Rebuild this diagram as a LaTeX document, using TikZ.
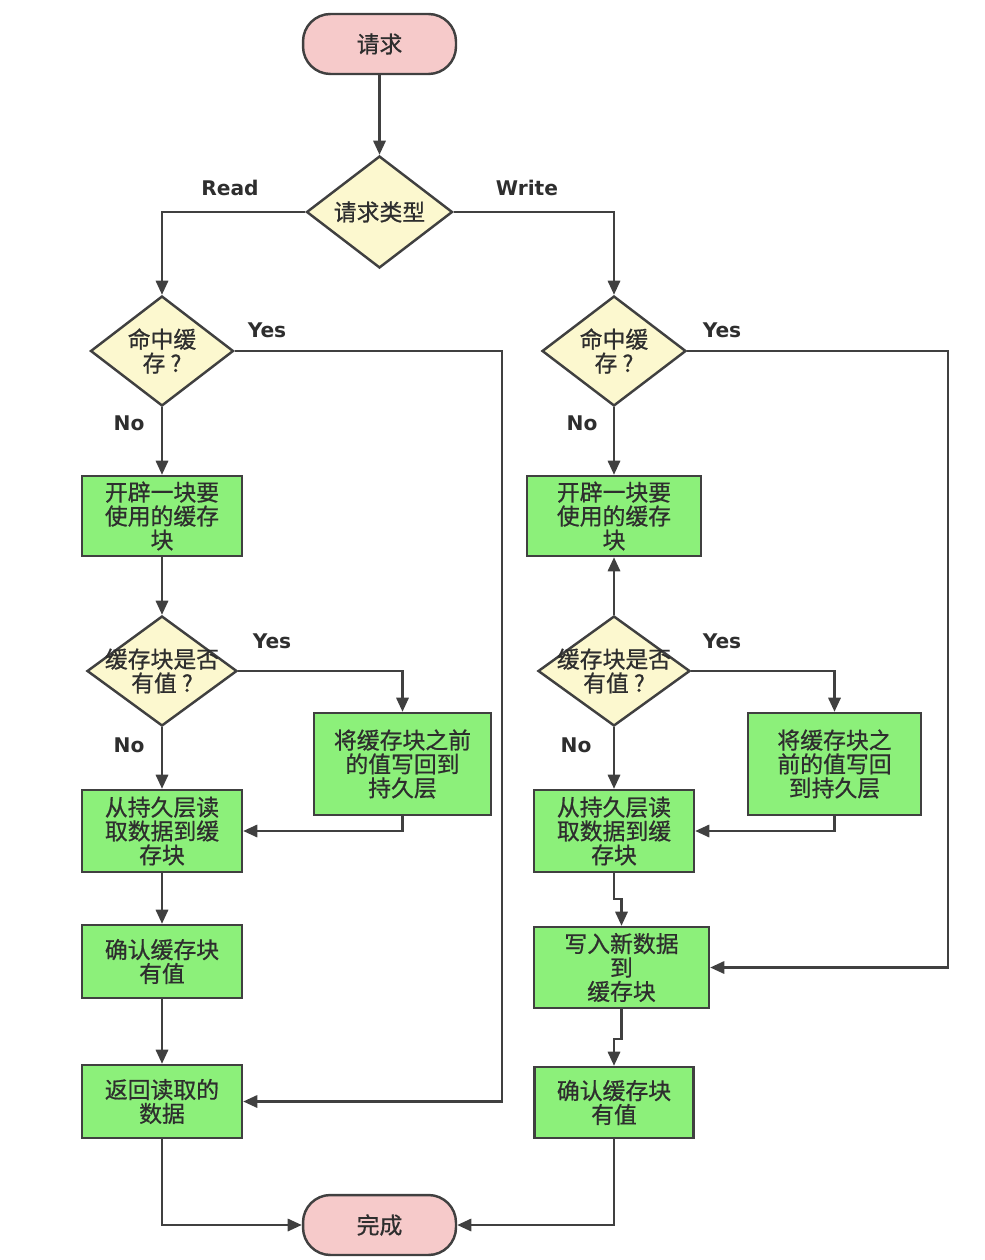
\documentclass[tikz,border=0pt]{standalone}
\usepackage{fontspec}
\newfontfamily\cjk[FakeBold=0.7]{Noto Sans CJK SC}
\newfontfamily\lab{DejaVu Sans}
\usetikzlibrary{shapes.geometric,arrows.meta}
\definecolor{ln}{HTML}{404040}
\definecolor{txt}{HTML}{2E2E2E}
\definecolor{pinkf}{HTML}{F6CACA}
\definecolor{yelf}{HTML}{FCF8CF}
\definecolor{grnf}{HTML}{8CF07A}
\tikzset{
  base/.style={draw=ln, line width=1.4pt, text=txt, font=\cjk\fontsize{13}{13.6}\selectfont, align=center, inner sep=0pt},
  term/.style={base, fill=pinkf, rounded corners=0.55cm, minimum width=3.06cm, minimum height=1.2cm},
  proc/.style={base, fill=grnf},
  diam/.style={base, diamond, fill=yelf},
  dtext/.style={text=txt, font=\cjk\fontsize{13}{13.6}\selectfont, align=center, inner sep=0pt},
  arr/.style={draw=ln, line width=1.3pt, -{Triangle[length=8pt,width=7pt]}},
  yn/.style={text=txt, font=\lab\bfseries\fontsize{11.5}{12}\selectfont, inner sep=0pt}
}
\begin{document}
\begin{tikzpicture}[x=0.02cm,y=-0.02cm]
\useasboundingbox (0,0) rectangle (984,1260);
% terminals
\node[term] (start) at (379.5,44) {请求};
\node[term] (fin) at (379.5,1225) {完成};
% decision: type
\node[diam, minimum width=2.92cm, minimum height=2.24cm, label={[dtext]center:请求类型}] (type) at (379.5,212) {};
% left column
\node[diam, minimum width=2.86cm, minimum height=2.2cm, label={[dtext]center:{命中缓\\存 ?}}] (hitL) at (162,351) {};
\node[proc, minimum width=3.2cm, minimum height=1.6cm] (openL) at (162,516) {开辟一块要\\使用的缓存\\块};
\node[diam, minimum width=3.0cm, minimum height=2.2cm, label={[dtext]center:{缓存块是否\\有值 ?}}] (cacheL) at (162,671) {};
\node[proc, minimum width=3.54cm, minimum height=2.04cm] (wbL) at (402.5,764) {将缓存块之前\\的值写回到\\持久层};
\node[proc, minimum width=3.2cm, minimum height=1.64cm] (readL) at (162,831) {从持久层读\\取数据到缓\\存块};
\node[proc, minimum width=3.2cm, minimum height=1.46cm] (confL) at (162,961.5) {确认缓存块\\有值};
\node[proc, minimum width=3.2cm, minimum height=1.46cm] (retL) at (162,1101.5) {返回读取的\\数据};
% right column
\node[diam, minimum width=2.88cm, minimum height=2.2cm, label={[dtext]center:{命中缓\\存 ?}}] (hitR) at (614,351) {};
\node[proc, minimum width=3.48cm, minimum height=1.6cm] (openR) at (614,516) {开辟一块要\\使用的缓存\\块};
\node[diam, minimum width=3.04cm, minimum height=2.2cm, label={[dtext]center:{缓存块是否\\有值 ?}}] (cacheR) at (614,671) {};
\node[proc, minimum width=3.46cm, minimum height=2.04cm] (wbR) at (834.5,764) {将缓存块之\\前的值写回\\到持久层};
\node[proc, minimum width=3.2cm, minimum height=1.64cm] (readR) at (614,831) {从持久层读\\取数据到缓\\存块};
\node[proc, minimum width=3.5cm, minimum height=1.62cm] (writeR) at (621.5,967.5) {写入新数据\\到\\缓存块};
\node[proc, minimum width=3.18cm, minimum height=1.42cm] (confR) at (614,1102.5) {确认缓存块\\有值};
% helper coordinates
\coordinate (xL) at (502,700);
\coordinate (xR) at (948,700);
% connectors
\draw[arr] (start) -- (type);
\draw[arr] (type.west) -| (hitL.north);
\draw[arr] (type.east) -| (hitR.north);
\draw[arr] (hitL.east) -| (xL) |- (retL.east);
\draw[arr] (hitL.south) -- (openL.north);
\draw[arr] (openL.south) -- (cacheL.north);
\draw[arr] (cacheL.east) -| (wbL.north);
\draw[arr] (cacheL.south) -- (readL.north);
\draw[arr] (wbL.south) |- (readL.east);
\draw[arr] (readL.south) -- (confL.north);
\draw[arr] (confL.south) -- (retL.north);
\draw[arr] (retL.south) |- (fin.west);
\draw[arr] (hitR.east) -| (xR) |- (writeR.east);
\draw[arr] (hitR.south) -- (openR.north);
\draw[arr] (cacheR.north) -- (openR.south);
\draw[arr] (cacheR.east) -| (wbR.north);
\draw[arr] (cacheR.south) -- (readR.north);
\draw[arr] (wbR.south) |- (readR.east);
\draw[arr] (readR.south) -- ++(0,26) -| (writeR.north);
\draw[arr] (writeR.south) -- ++(0,30) -| (confR.north);
\draw[arr] (confR.south) |- (fin.east);
% labels
\node[yn] (lRead) at (230,188) {Read};
\node[yn] (lWrite) at (527,188) {Write};
\node[yn] (lY1) at (267,330) {Yes};
\node[yn] (lN1) at (129,423) {No};
\node[yn] (lY2) at (272,641) {Yes};
\node[yn] (lN2) at (129,745) {No};
\node[yn] (lY3) at (722,330) {Yes};
\node[yn] (lN3) at (582,423) {No};
\node[yn] (lY4) at (722,641) {Yes};
\node[yn] (lN4) at (576,745) {No};
\end{tikzpicture}
\end{document}
